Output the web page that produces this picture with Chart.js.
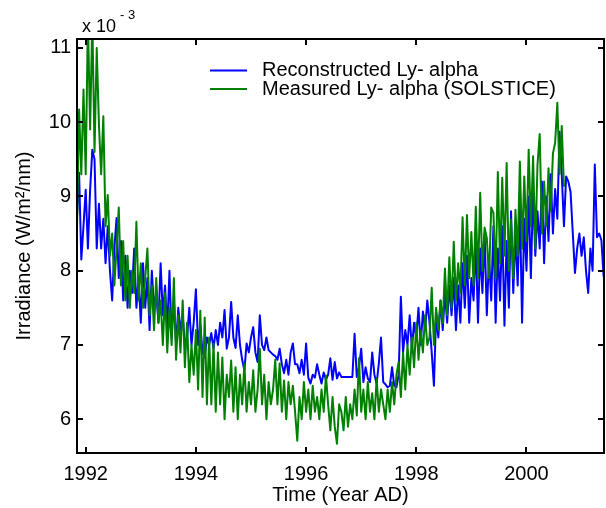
<!DOCTYPE html>
<html lang="en">
<head>
<meta charset="UTF-8">
<title>Lyman-alpha irradiance</title>
<script src="https://cdn.jsdelivr.net/npm/chart.js"></script>
<style>
  body { margin: 0; background: #fff; }
  canvas { display: block; }
</style>
</head>
<body>
<canvas id="lyaChart" width="606" height="508"></canvas>
<script>
  // both series share one sampling grid (decimal years)
  const startYear = 1991.84;
  const stepYears = 0.04;

  // irradiance in units of 1e-3 W/m^2/nm
  const reconstructed = [
    8.7, 9.32, 8.15, 8.6, 9.09, 8.3, 9.09, 9.63, 9.5, 8.3,
    8.9, 8.3, 8.7, 8.1, 8.6, 8.0, 7.6, 8.3, 8.71, 7.9,
    8.4, 7.6, 8.2, 7.5, 8.0, 7.7, 8.3, 7.5, 7.9, 7.3,
    8.1, 7.5, 7.9, 7.2, 8.0, 7.5, 7.7, 7.3, 8.1, 7.4,
    7.8, 7.2, 8.0, 7.1, 7.6, 7.0, 7.5, 7.2, 7.4, 7.0,
    7.1, 7.5, 7.0, 7.3, 7.75, 7.0, 7.27, 6.9, 6.83, 7.1,
    7.0, 7.16, 6.95, 7.2, 7.0, 7.3, 7.1, 7.47, 6.95, 7.1,
    7.58, 7.1, 6.96, 7.4, 7.0, 6.8, 6.66, 7.02, 6.9, 7.1,
    7.24, 6.9, 6.77, 7.4, 7.0, 6.93, 7.1, 6.93, 6.9, 6.87,
    6.85, 6.8, 6.95, 6.74, 6.62, 6.8, 6.6, 6.9, 7.02, 6.74,
    6.74, 6.62, 6.8, 6.6, 7.02, 6.56, 6.48, 6.6, 6.56, 6.74,
    6.6, 6.48, 6.63, 6.53, 6.6, 6.82, 6.53, 6.77, 6.55, 6.63,
    6.57, 6.57, 6.57, 6.57, 6.57, 6.57, 7.15, 6.57, 6.7, 6.95,
    6.5, 6.7, 6.55, 6.5, 6.9, 6.6, 6.48, 6.75, 7.1, 6.5,
    6.47, 6.43, 6.45, 6.7, 6.45, 6.43, 6.6, 7.65, 6.9, 7.2,
    7.0, 7.4, 6.95, 7.3, 7.1, 7.5, 7.0, 7.45, 7.2, 7.6,
    7.3, 6.9, 6.45, 7.4, 7.1, 7.6, 7.2, 7.7, 7.3, 7.8,
    7.4, 7.9, 7.2, 7.8, 7.3, 8.1, 7.5, 8.2, 7.3, 7.9,
    7.6, 8.4, 7.3, 8.3, 7.7, 8.5, 7.4, 8.2, 7.6, 8.6,
    7.3, 8.3, 7.6, 8.6, 7.26, 8.4, 7.5, 8.8, 7.7, 8.5,
    7.8, 8.9, 7.3, 8.7, 8.0, 9.0, 7.9, 9.1, 8.2, 8.8,
    8.3, 9.2, 8.1, 9.0, 8.4, 9.3, 8.5, 9.1, 8.7, 9.87,
    9.3, 8.6, 9.27, 9.2, 9.06, 8.51, 7.97, 8.3, 8.5, 8.2,
    8.45, 8.0, 7.7, 8.3, 8.0, 9.43, 8.45, 8.5, 8.41, 7.92
  ];
  const measured = [
    8.5, 10.17, 9.3, 10.44, 9.3, 11.4, 9.9, 11.4, 9.6, 11.0,
    9.97, 9.3, 10.08, 8.6, 9.02, 8.2, 8.5, 7.8, 8.3, 8.85,
    7.8, 8.4, 7.6, 8.2, 7.5, 8.0, 7.7, 8.66, 7.6, 8.1,
    7.5, 7.9, 8.3, 7.4, 7.8, 7.2, 7.9, 7.3, 7.6, 7.0,
    7.7, 6.9, 7.5, 7.0, 7.9, 6.8, 7.4, 6.9, 7.6, 6.7,
    7.3, 6.5, 7.0, 6.6, 7.2, 6.4, 7.46, 6.3, 7.37, 6.2,
    7.1, 6.2, 7.02, 6.1, 6.9, 6.2, 6.83, 6.0, 6.6, 6.3,
    6.79, 6.1, 6.7, 6.0, 6.6, 6.2, 6.75, 6.1, 6.5, 6.2,
    6.66, 6.1, 6.4, 6.95, 6.2, 6.6, 6.0, 6.5, 6.2, 6.4,
    6.8, 6.2, 6.75, 6.1, 6.52, 6.0, 6.5, 6.2, 6.45, 6.1,
    5.71, 6.3, 6.0, 6.5, 6.1, 6.4, 6.0, 6.45, 6.1, 6.3,
    6.0, 6.4, 6.1, 6.59, 6.2, 5.85, 6.3, 5.9, 5.67, 6.2,
    6.1, 5.85, 6.3, 5.9, 6.2, 6.0, 6.4, 6.05, 6.82, 6.1,
    6.4, 6.0, 6.5, 6.1, 6.35, 6.0, 6.55, 6.1, 6.4, 6.2,
    6.0, 6.4, 6.1, 6.5, 6.2, 6.6, 6.77, 6.3, 6.9, 6.4,
    7.0, 6.6, 7.1, 6.7, 7.3, 6.8, 7.2, 6.9, 7.4, 7.0,
    7.1, 7.77, 7.0, 7.5, 7.2, 7.6, 7.3, 8.03, 7.4, 8.18,
    7.5, 8.39, 7.6, 8.1, 7.7, 8.72, 7.8, 8.75, 7.9, 8.52,
    7.8, 8.86, 7.9, 9.05, 8.0, 8.58, 8.44, 7.9, 8.85, 8.78,
    7.9, 9.33, 8.1, 9.25, 8.2, 9.45, 8.0, 8.69, 7.9, 8.82,
    8.2, 9.47, 8.3, 9.27, 8.4, 9.63, 8.6, 9.54, 8.3, 9.43,
    9.84, 8.5, 9.2, 8.6, 9.38, 8.8, 9.58, 9.72, 10.26, 9.3,
    9.95, 9.13
  ];

  const yearTicks = [1992, 1994, 1996, 1998, 2000];
  const irradianceTicks = [6, 7, 8, 9, 10, 11];
  const seriesLabels = ['Reconstructed Ly- alpha', 'Measured Ly- alpha (SOLSTICE)'];
  const seriesColors = ['#0000ff', '#008000'];

  const FONT = '"Liberation Sans", Arial, Helvetica, sans-serif';

  const toPoints = vals => vals.map((v, i) => ({ x: startYear + i * stepYears, y: v }));

  // axes box with inward ticks on all four sides, exponent and legend
  const framePlugin = {
    id: 'frame',
    afterDraw(chart) {
      const { ctx, chartArea: a, scales: { x, y } } = chart;
      ctx.save();
      ctx.strokeStyle = '#000';
      ctx.lineWidth = 2;
      ctx.beginPath();
      x.ticks.forEach(t => {
        const px = Math.round(x.getPixelForValue(t.value));
        ctx.moveTo(px, a.bottom); ctx.lineTo(px, a.bottom - 6);
        ctx.moveTo(px, a.top); ctx.lineTo(px, a.top + 6);
      });
      y.ticks.forEach(t => {
        const py = Math.round(y.getPixelForValue(t.value));
        ctx.moveTo(a.left, py); ctx.lineTo(a.left + 6, py);
        ctx.moveTo(a.right, py); ctx.lineTo(a.right - 6, py);
      });
      ctx.stroke();
      ctx.strokeRect(a.left, a.top, a.right - a.left, a.bottom - a.top);

      // axis multiplier
      ctx.fillStyle = '#000';
      ctx.textBaseline = 'alphabetic';
      ctx.textAlign = 'left';
      ctx.font = '18px ' + FONT;
      ctx.fillText('x 10', a.left + 5, a.top - 7);
      ctx.font = '13px ' + FONT;
      ctx.fillText('- 3', a.left + 43, a.top - 20);

      // legend
      ctx.font = '20px ' + FONT;
      ctx.textBaseline = 'middle';
      chart.data.datasets.forEach((ds, i) => {
        const ly = 70.5 + i * 18.6;
        ctx.strokeStyle = ds.borderColor;
        ctx.lineWidth = 2;
        ctx.beginPath();
        ctx.moveTo(210, ly); ctx.lineTo(247, ly);
        ctx.stroke();
        ctx.fillText(ds.label, 262, ly);
      });
      ctx.restore();
    }
  };

  new Chart(document.getElementById('lyaChart'), {
    type: 'line',
    data: {
      datasets: [
        {
          label: seriesLabels[0],
          data: toPoints(reconstructed),
          borderColor: seriesColors[0],
          order: 2
        },
        {
          label: seriesLabels[1],
          data: toPoints(measured),
          borderColor: seriesColors[1],
          order: 1
        }
      ]
    },
    options: {
      responsive: false,
      animation: false,
      events: [],
      layout: { padding: { top: 39, right: 2, left: 0, bottom: 0 } },
      elements: {
        point: { radius: 0 },
        line: { borderWidth: 2, tension: 0, borderJoinStyle: 'round', fill: false }
      },
      datasets: { line: { clip: 0 } },
      plugins: { legend: { display: false }, tooltip: { enabled: false } },
      scales: {
        x: {
          type: 'linear',
          min: 1991.842,
          max: 2001.407,
          afterBuildTicks: s => { s.ticks = yearTicks.map(v => ({ value: v })); },
          afterFit: s => { s.height = 55; },
          grid: { display: false, drawTicks: false },
          border: { display: false },
          ticks: {
            color: '#000',
            padding: 9,
            maxRotation: 0,
            autoSkip: false,
            font: { family: FONT, size: 20 },
            callback: v => String(v)
          },
          title: {
            display: true,
            text: 'Time (Year AD)',
            color: '#000',
            font: { family: FONT, size: 20 },
            padding: { top: 0, bottom: 1 }
          }
        },
        y: {
          min: 5.545,
          max: 11.12,
          afterBuildTicks: s => { s.ticks = irradianceTicks.map(v => ({ value: v })); },
          afterFit: s => { s.width = 77; },
          grid: { display: false, drawTicks: false },
          border: { display: false },
          ticks: {
            color: '#000',
            padding: 6,
            font: { family: FONT, size: 20 },
            callback: v => String(v)
          },
          title: {
            display: true,
            text: 'Irradiance (W/m²/nm)',
            color: '#000',
            font: { family: FONT, size: 20 },
            padding: { top: 12, bottom: 0 }
          }
        }
      }
    },
    plugins: [framePlugin]
  });
</script>
</body>
</html>
